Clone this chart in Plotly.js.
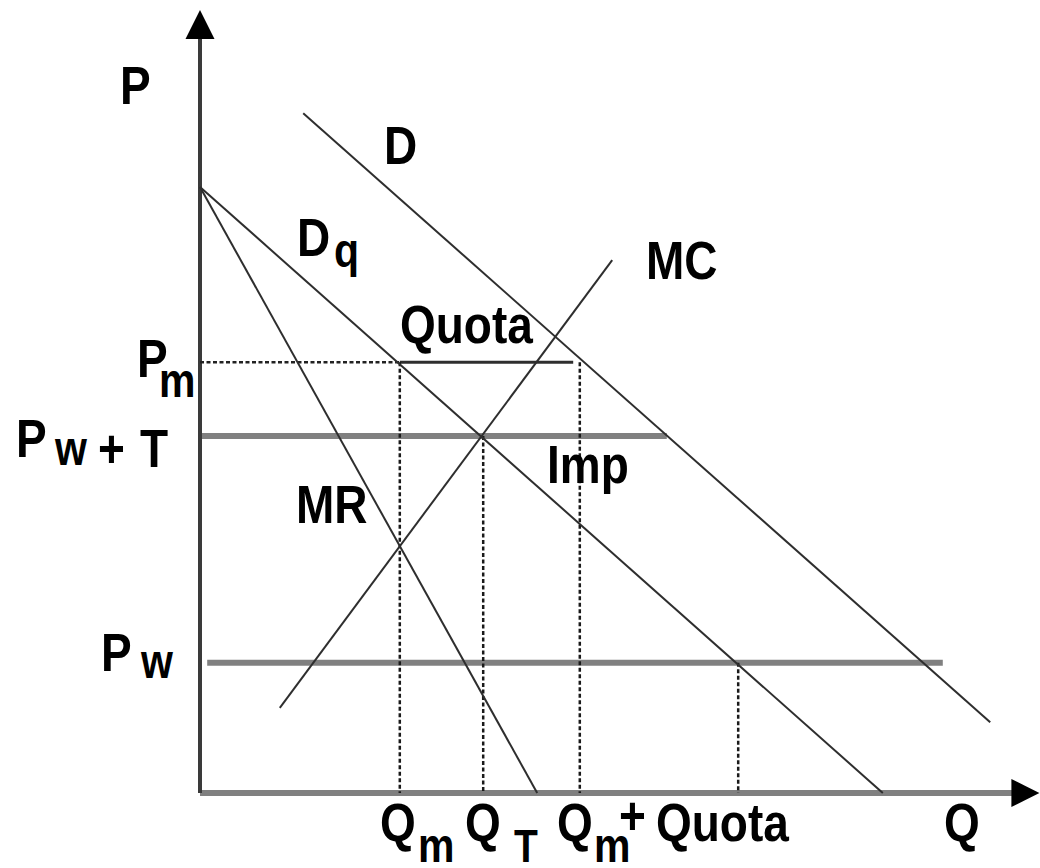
<!DOCTYPE html>
<html><head><meta charset="utf-8">
<script src="https://cdn.plot.ly/plotly-3.0.1.min.js"></script>
<style>
html,body{margin:0;padding:0;background:#fff}
.annotation-text{transform-box:fill-box;transform-origin:50% 50%;transform:scaleY(1.17)}
</style>
</head><body><div id="chart" style="width:1040px;height:868px"></div>
<script>
// Curves (Q, P) in economic units
const demandQ = [1.72, 13.17];
const demandP = [11.33, 1.18];
const quotaDemandQ = [0, 11.38];
const quotaDemandP = [10.1, 0];
const mrQ = [0, 5.62];
const mrP = [10.1, 0];
const mcQ = [1.33, 6.87];
const mcP = [1.42, 8.88];
// Price levels
const priceLevels = { pm: 7.18, pwT: 5.95, pw: 2.17 };
// Quantities
const qm = 3.33, qT = 4.72, qmQuota = 6.33, qFree = 8.97;
// Line extents
const pwTEnd = 7.78, pwStart = 0.12, pwEnd = 12.38, quotaEnd = 6.22;
const yAxisTop = 12.6, yArrowTip = 13.05, xAxisEnd = 13.6, xArrowTip = 13.99;

const thin = '#2e2e2e';
const gray = '#808080';
const dash = '4px,2.5px';
const L = (x, y, color, width, d) => ({
  x, y, type: 'scatter', mode: 'lines', hoverinfo: 'skip',
  line: { color, width, dash: d || 'solid' }
});

const traces = [
  L([0, pwTEnd], [priceLevels.pwT, priceLevels.pwT], gray, 6),
  L([pwStart, pwEnd], [priceLevels.pw, priceLevels.pw], gray, 6),
  L([0, xAxisEnd], [0, 0], gray, 6),
  L([0, 0], [0, yAxisTop], '#3a3a3a', 4),
  L([0, qm], [priceLevels.pm, priceLevels.pm], '#222', 2.5, dash),
  L([qm, quotaEnd], [priceLevels.pm, priceLevels.pm], thin, 3),
  L([qm, qm, null, qT, qT, null, qmQuota, qmQuota, null, qFree, qFree],
    [priceLevels.pm, 0, null, priceLevels.pwT, 0, null, priceLevels.pm, 0, null, priceLevels.pw, 0],
    '#1a1a1a', 2.5, dash),
  L(demandQ, demandP, thin, 2),
  L(quotaDemandQ, quotaDemandP, thin, 2),
  L(mrQ, mrP, thin, 2),
  L(mcQ, mcP, thin, 2),
  { x: [0], y: [yArrowTip], type: 'scatter', mode: 'markers', hoverinfo: 'skip', cliponaxis: false,
    marker: { symbol: 'arrow-up', size: 29, color: '#000', line: { width: 0 } } },
  { x: [xArrowTip], y: [0], type: 'scatter', mode: 'markers', hoverinfo: 'skip', cliponaxis: false,
    marker: { symbol: 'arrow-right', size: 28, color: '#000', line: { width: 0 } } }
];

const W = 1040, H = 868, FS = 46, FSUB = 41;
// [text, centre x px, centre y px, font size]
const labels = [
  ['P', 135, 86, FS], ['D', 400, 146, FS], ['D', 313, 238, FS], ['q', 346, 250, FSUB], ['MC', 682, 261, FS],
  ['Quota', 467, 325, FS], ['P', 152, 359, FS], ['m', 177, 381, FSUB],
  ['P', 31, 439, FS], ['w', 70, 448, FSUB], ['+', 111, 449, FS], ['T', 154, 449, FS],
  ['Imp', 588, 465, FS], ['MR', 332, 505, FS], ['P', 116, 653, FS], ['w', 156, 661, FSUB],
  ['Q', 398, 823, FS], ['m', 436, 845, FSUB], ['Q', 483, 823, FS], ['T', 526, 846, 39],
  ['Q', 575, 823, FS], ['m', 612, 845, FSUB], ['+', 632, 816, FS], ['Quota', 723, 823, FS], ['Q', 962, 823, FS]
];
const annotations = labels.map(([t, px, py, fs]) => ({
  text: t, xref: 'paper', yref: 'paper', x: px / W, y: 1 - py / H,
  xanchor: 'center', yanchor: 'middle', showarrow: false,
  font: { family: 'Liberation Sans, Arial, sans-serif', size: fs, color: '#000', weight: 'bold' }
}));

const layout = {
  width: W, height: H, margin: { l: 0, r: 0, t: 0, b: 0 },
  paper_bgcolor: '#fff', plot_bgcolor: '#fff', showlegend: false,
  xaxis: { range: [-200 / 60, 840 / 60], visible: false, fixedrange: true },
  yaxis: { range: [-75 / 60, 793 / 60], visible: false, fixedrange: true },
  annotations
};
Plotly.newPlot('chart', traces, layout, { staticPlot: true });
</script></body></html>
